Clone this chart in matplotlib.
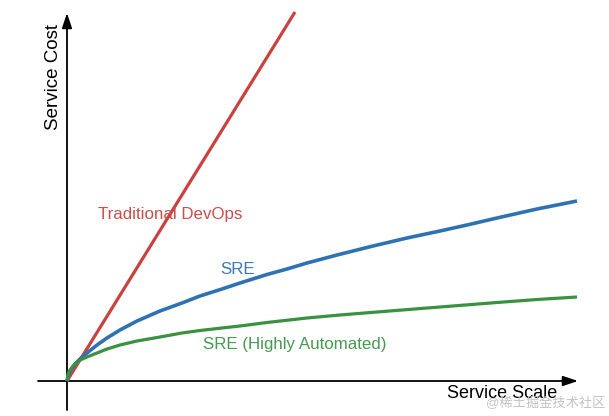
import matplotlib
matplotlib.use("Agg")
import matplotlib.pyplot as plt

plt.rcParams['font.family'] = ['Liberation Sans', 'Noto Sans CJK SC', 'DejaVu Sans']

# values (arbitrary units, origin at the axes corner)
devops_scale = [0, 228]
devops_cost = [0, 369]

sre_scale = [0, 2, 5, 9, 13, 20, 30, 40, 53, 70, 93, 115, 133, 155, 173, 200,
             220, 240, 270, 306, 340, 373, 400, 430, 470, 510]
sre_cost = [0, 8, 13, 18, 22, 28, 36, 43, 51, 60, 70, 78, 85, 92, 98, 106.5,
            112, 118, 126, 135, 143, 150, 156, 163, 172, 180]

auto_scale = [0, 1, 3, 7, 13, 20, 30, 40, 53, 70, 93, 115, 133, 155, 173, 200,
              240, 273, 310, 373, 430, 470, 510]
auto_cost = [0, 7, 11, 16, 21, 24, 28, 32, 36, 40, 44, 48, 50.5, 53, 55, 58.5,
             63, 66, 69, 74, 78.5, 81.5, 84]

fig = plt.figure(figsize=(6.09, 4.16), dpi=100)
ax = fig.add_axes([0, 0, 1, 1])
ax.set_xlim(-67, 542)
ax.set_ylim(-35, 381)
ax.axis('off')

# axes with arrows
ax.annotate('', xy=(511, 0), xytext=(-29, 0),
            arrowprops=dict(arrowstyle='-|>,head_length=0.9,head_width=0.3',
                            color='black', lw=1.3, shrinkA=0, shrinkB=0))
ax.annotate('', xy=(0, 368), xytext=(0, -29),
            arrowprops=dict(arrowstyle='-|>,head_length=0.9,head_width=0.3',
                            color='black', lw=1.3, shrinkA=0, shrinkB=0))

ax.plot(devops_scale, devops_cost, color='#c9423f', lw=2.3, solid_capstyle='butt', zorder=3)
ax.plot(sre_scale, sre_cost, color='#2e72b4', lw=2.6, solid_capstyle='butt',
        solid_joinstyle='round', zorder=3)
ax.plot(auto_scale, auto_cost, color='#3a9140', lw=2.3, solid_capstyle='butt',
        solid_joinstyle='round', zorder=4)

ax.text(-14, 304, 'Service Cost', rotation=90, ha='center', va='center', fontsize=13.5)
ax.text(435, -12, 'Service Scale', ha='center', va='center', fontsize=13)
ax.text(103, 167, 'Traditional DevOps', ha='center', va='center', fontsize=12.2, color='#c84e4a')
ax.text(171, 111, 'SRE', ha='center', va='center', fontsize=12.2, color='#3b78b8')
ax.text(228, 37, 'SRE (Highly Automated)', ha='center', va='center', fontsize=12.2, color='#469a50')

ax.text(479, -23, '@稀土掘金技术社区', ha='center', va='center', fontsize=9.5, color='#c4c4c4')

fig.savefig('out.png', dpi=100)
